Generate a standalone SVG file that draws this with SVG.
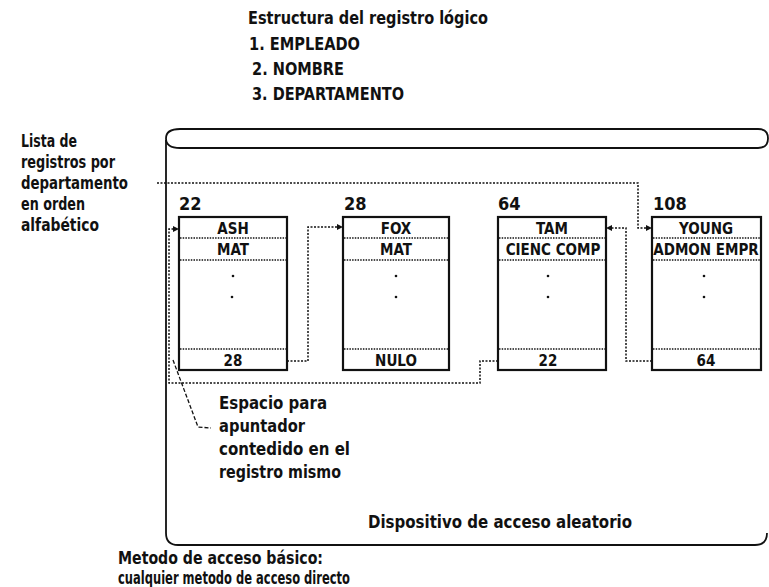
<svg xmlns="http://www.w3.org/2000/svg" width="769" height="587" viewBox="0 0 769 587">
<style>
  text { font-family: "Liberation Sans Narrow", "DejaVu Sans Condensed", "Liberation Sans", sans-serif; font-weight: bold; fill: #111; }
  .big { font-size: 18px; }
  .mid { font-size: 18px; }
  .low { font-size: 17px; }
  .cell { font-size: 15px; text-anchor: middle; }
  .box { fill: #fff; stroke: #111; stroke-width: 2.2; }
  .sep { stroke: #111; stroke-width: 1.4; stroke-dasharray: 1.5 1.2; fill: none; }
  .dev { fill: none; stroke: #111; stroke-width: 1.8; }
  .con { fill: none; stroke: #111; stroke-width: 1.5; stroke-dasharray: 2 1.5; }
  .lead { fill: none; stroke: #111; stroke-width: 1.3; stroke-dasharray: 4 2; }
  .dot { fill: #111; }
</style>
<defs>
  <marker id="arr" viewBox="0 0 6 6" refX="6" refY="3" markerWidth="6" markerHeight="6" markerUnits="userSpaceOnUse" orient="auto">
    <path d="M0,0 L6,3 L0,6 z" fill="#111"/>
  </marker>
</defs>

<g id="titles">
  <text class="big" x="248" y="24" textLength="240" lengthAdjust="spacingAndGlyphs">Estructura del registro lógico</text>
  <text class="big" x="249" y="50" textLength="111" lengthAdjust="spacingAndGlyphs">1. EMPLEADO</text>
  <text class="big" x="252" y="75" textLength="92" lengthAdjust="spacingAndGlyphs">2. NOMBRE</text>
  <text class="big" x="252" y="100" textLength="152" lengthAdjust="spacingAndGlyphs">3. DEPARTAMENTO</text>
</g>

<g id="lista-label">
  <text class="mid" x="21" y="147" textLength="56" lengthAdjust="spacingAndGlyphs">Lista de</text>
  <text class="mid" x="21" y="168" textLength="94" lengthAdjust="spacingAndGlyphs">registros por</text>
  <text class="mid" x="21" y="189" textLength="107" lengthAdjust="spacingAndGlyphs">departamento</text>
  <text class="mid" x="21" y="210" textLength="64" lengthAdjust="spacingAndGlyphs">en orden</text>
  <text class="mid" x="21" y="231" textLength="78" lengthAdjust="spacingAndGlyphs">alfabético</text>
</g>

<g id="device">
  <path class="dev" d="M180 129 L758 129 C766 129 768 134 768 138.5 C768 143 766 148 758 148 L180 148 C170 148 166 144 166 138.5 C166 133 170 129 180 129 Z"/>
  <path class="dev" d="M166 140 L166 533 Q166 545 178 545 L755 545 Q767 545 767 533"/>
  <text class="mid" x="368" y="528" textLength="264" lengthAdjust="spacingAndGlyphs">Dispositivo de acceso aleatorio</text>
</g>

<g id="rec-22">
  <text class="mid" x="179" y="210">22</text>
  <rect class="box" x="179" y="217" width="108" height="153"/>
  <line class="sep" x1="180" y1="238" x2="286" y2="238"/>
  <line class="sep" x1="180" y1="260" x2="286" y2="260"/>
  <line class="sep" x1="180" y1="349" x2="286" y2="349"/>
  <text class="cell" x="233" y="234">ASH</text>
  <text class="cell" x="233" y="255">MAT</text>
  <circle class="dot" cx="233" cy="276" r="1.3"/>
  <circle class="dot" cx="232" cy="297" r="1.3"/>
  <text class="cell" x="233" y="366">28</text>
</g>

<g id="rec-28">
  <text class="mid" x="344" y="210">28</text>
  <rect class="box" x="343" y="217" width="106" height="153"/>
  <line class="sep" x1="344" y1="238" x2="448" y2="238"/>
  <line class="sep" x1="344" y1="260" x2="448" y2="260"/>
  <line class="sep" x1="344" y1="349" x2="448" y2="349"/>
  <text class="cell" x="396" y="234">FOX</text>
  <text class="cell" x="396" y="255">MAT</text>
  <circle class="dot" cx="396" cy="276" r="1.3"/>
  <circle class="dot" cx="396" cy="297" r="1.3"/>
  <text class="cell" x="396" y="366">NULO</text>
</g>

<g id="rec-64">
  <text class="mid" x="498" y="210">64</text>
  <rect class="box" x="498" y="217" width="108" height="153"/>
  <line class="sep" x1="499" y1="238" x2="605" y2="238"/>
  <line class="sep" x1="499" y1="260" x2="605" y2="260"/>
  <line class="sep" x1="499" y1="349" x2="605" y2="349"/>
  <text class="cell" x="552" y="234">TAM</text>
  <text class="cell" x="553" y="255">CIENC COMP</text>
  <circle class="dot" cx="548" cy="276" r="1.3"/>
  <circle class="dot" cx="548" cy="297" r="1.3"/>
  <text class="cell" x="548" y="366">22</text>
</g>

<g id="rec-108">
  <text class="mid" x="653" y="210">108</text>
  <rect class="box" x="652" y="217" width="109" height="153"/>
  <line class="sep" x1="653" y1="238" x2="760" y2="238"/>
  <line class="sep" x1="653" y1="260" x2="760" y2="260"/>
  <line class="sep" x1="653" y1="349" x2="760" y2="349"/>
  <text class="cell" x="706" y="234">YOUNG</text>
  <text class="cell" x="706" y="255">ADMON EMPR</text>
  <circle class="dot" cx="704" cy="276" r="1.3"/>
  <circle class="dot" cx="704" cy="297" r="1.3"/>
  <text class="cell" x="706" y="366">64</text>
</g>

<g id="connectors">
  <path class="con" d="M157 183 L638 183 L638 228 L652 228" marker-end="url(#arr)"/>
  <path class="con" d="M287 361 L308 361 L308 227 L343 227" marker-end="url(#arr)"/>
  <path class="con" d="M652 361 L626 361 L626 228 L606 228" marker-end="url(#arr)"/>
  <path class="con" d="M498 361 L480 361 L480 383 L169 383 L169 229 L179 229" marker-end="url(#arr)"/>
  <path class="lead" d="M173 360 L198 427 L211 428"/>
</g>

<g id="pointer-note">
  <text class="mid" x="219" y="409" textLength="108" lengthAdjust="spacingAndGlyphs">Espacio para</text>
  <text class="mid" x="219" y="432" textLength="86" lengthAdjust="spacingAndGlyphs">apuntador</text>
  <text class="mid" x="219" y="455" textLength="131" lengthAdjust="spacingAndGlyphs">contedido en el</text>
  <text class="mid" x="219" y="478" textLength="122" lengthAdjust="spacingAndGlyphs">registro mismo</text>
</g>

<g id="method">
  <text class="low" x="118" y="564" textLength="205" lengthAdjust="spacingAndGlyphs">Metodo de acceso básico:</text>
  <text class="low" x="118" y="584" textLength="232" lengthAdjust="spacingAndGlyphs">cualquier metodo de acceso directo</text>
</g>
</svg>
